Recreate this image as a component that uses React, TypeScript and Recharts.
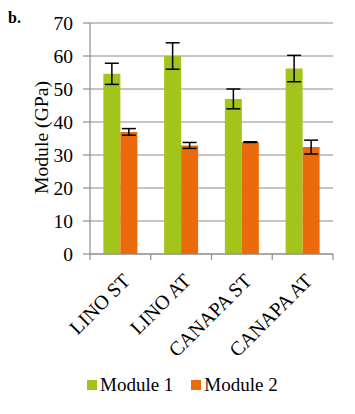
import { BarChart, Bar, XAxis, YAxis, CartesianGrid, ErrorBar, Legend } from 'recharts'

const categories = ['LINO ST', 'LINO AT', 'CANAPA ST', 'CANAPA AT']
const module1 = [54.6, 60, 47, 56.2]
const module1Err = [3.2, 4, 3, 4]
const module2 = [37, 32.9, 33.9, 32.4]
const module2Err = [1, 0.9, 0.1, 2.1]
const yTicks = [0, 10, 20, 30, 40, 50, 60, 70]

const GREEN = '#a3c51b'
const ORANGE = '#eb6a0b'
const GRID = '#8c8c8c'
const FONT = '"Liberation Serif", "Times New Roman", serif'

const data = categories.map((name, i) => ({
  name,
  m1: module1[i],
  m1Err: module1Err[i],
  m2: module2[i],
  m2Err: module2Err[i],
}))

// category label rotated -45deg + the Excel-style ticks between categories
const XTick = (props: any) => {
  const { x, y, payload, index } = props
  const half = payload?.offset ?? 30.3
  const ax = x + 11
  const ay = y + 28
  return (
    <g>
      <line x1={x - half} y1={y} x2={x - half} y2={y + 6} stroke={GRID} strokeWidth={1.2} />
      {index === categories.length - 1 && (
        <line x1={x + half} y1={y} x2={x + half} y2={y + 6} stroke={GRID} strokeWidth={1.2} />
      )}
      <text
        x={ax}
        y={ay}
        transform={`rotate(-45, ${ax}, ${ay})`}
        textAnchor="end"
        fontFamily={FONT}
        fontSize={20}
        fill="#000"
      >
        {payload.value}
      </text>
    </g>
  )
}

const YLabel = (props: any) => {
  const { viewBox } = props
  const cx = 40.5
  const cy = viewBox.y + viewBox.height / 2 - 1
  return (
    <text
      x={cx}
      y={cy}
      transform={`rotate(-90, ${cx}, ${cy})`}
      textAnchor="middle"
      dominantBaseline="central"
      fontFamily={FONT}
      fontSize={19.7}
      fill="#000"
    >
      Module (GPa)
    </text>
  )
}

const LegendContent = () => (
  <div style={{ display: 'flex', fontFamily: FONT, fontSize: 19, color: '#000', paddingLeft: 87 }}>
    {[
      { label: 'Module 1', color: GREEN },
      { label: 'Module 2', color: ORANGE },
    ].map((item, i) => (
      <div key={item.label} style={{ display: 'flex', alignItems: 'center', marginLeft: i ? 18 : 0 }}>
        <span style={{ width: 10, height: 10, background: item.color, marginRight: 3, display: 'inline-block' }} />
        <span>{item.label}</span>
      </div>
    ))}
  </div>
)

export default function App() {
  return (
    <div style={{ position: 'absolute', left: 0, top: 0, background: '#fff' }}>
      <div style={{ position: 'absolute', left: 8, top: 9, fontFamily: FONT, fontWeight: 'bold', fontSize: 16 }}>b.</div>
      <BarChart
        width={355}
        height={414}
        data={data}
        margin={{ top: 23, right: 22, left: 30, bottom: 10 }}
        barCategoryGap="22%"
        barGap={0}
      >
        <CartesianGrid vertical={false} stroke={GRID} strokeWidth={1.2} />
        <XAxis
          dataKey="name"
          height={100}
          tickLine={false}
          tickSize={0}
          tickMargin={0}
          axisLine={{ stroke: GRID, strokeWidth: 1.2 }}
          tick={<XTick />}
          interval={0}
        />
        <YAxis
          width={60}
          domain={[0, 70]}
          ticks={yTicks}
          interval={0}
          tickSize={7}
          tickMargin={10}
          tickLine={{ stroke: GRID, strokeWidth: 1.2 }}
          axisLine={{ stroke: GRID, strokeWidth: 1.2 }}
          tick={{ fontFamily: FONT, fontSize: 19.5, fill: '#000' }}
          label={<YLabel />}
        />
        <Legend
          verticalAlign="bottom"
          height={50}
          content={<LegendContent />}
          wrapperStyle={{ left: 0, top: 374, bottom: 'auto', width: 355 }}
        />
        <Bar dataKey="m1" name="Module 1" fill={GREEN} isAnimationActive={false}>
          <ErrorBar dataKey="m1Err" width={7} stroke="#000" strokeWidth={1.5} />
        </Bar>
        <Bar dataKey="m2" name="Module 2" fill={ORANGE} isAnimationActive={false}>
          <ErrorBar dataKey="m2Err" width={7} stroke="#000" strokeWidth={1.5} />
        </Bar>
      </BarChart>
    </div>
  )
}
